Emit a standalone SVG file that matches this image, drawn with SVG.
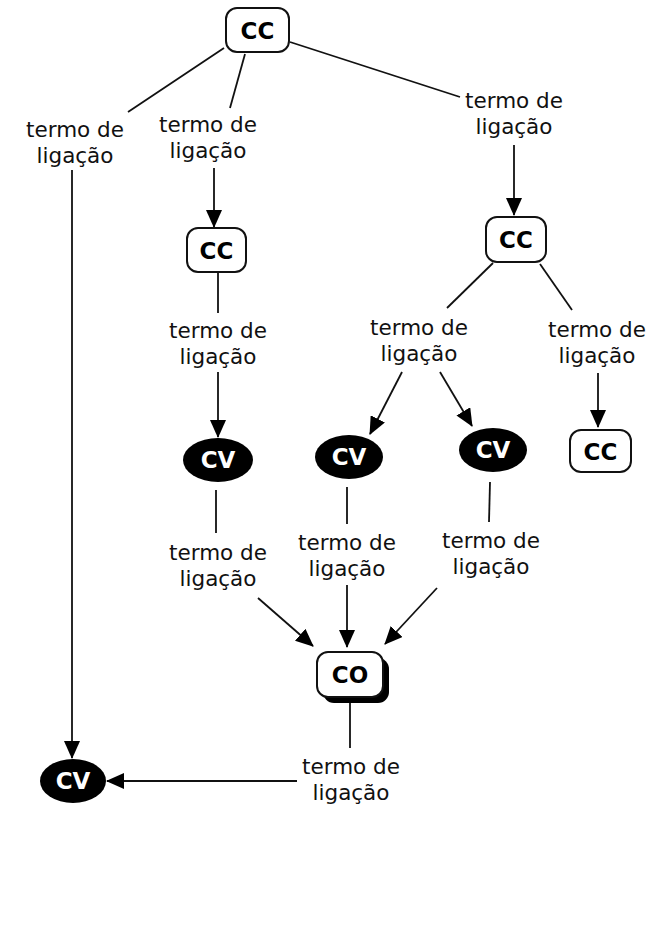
<svg xmlns="http://www.w3.org/2000/svg" width="666" height="937" viewBox="0 0 666 937">
<style>
.lbl{font-family:"DejaVu Sans",Verdana,sans-serif;font-size:21.5px;fill:#111;text-anchor:middle}
.cc{fill:#fff;stroke:#111;stroke-width:2}
.nt{font-family:"DejaVu Sans",Verdana,sans-serif;font-size:23px;font-weight:bold;text-anchor:middle}
.cv{fill:#000}
.ln{stroke:#111;stroke-width:1.8;fill:none}
</style>
<defs>
<marker id="ah" markerWidth="18" markerHeight="16" refX="17" refY="8" orient="auto" markerUnits="userSpaceOnUse">
<path d="M0,0 L18,8 L0,16 Z" fill="#000"/>
</marker>
</defs>
<rect width="666" height="937" fill="#fff"/>
<g id="connectors">
<line class="ln" x1="224" y1="48" x2="128" y2="112"/>
<line class="ln" x1="245" y1="54" x2="230" y2="108"/>
<line class="ln" x1="290" y1="42" x2="460" y2="97"/>
<line class="ln" x1="72" y1="170" x2="72" y2="758" marker-end="url(#ah)"/>
<line class="ln" x1="214" y1="168" x2="214" y2="227" marker-end="url(#ah)"/>
<line class="ln" x1="218" y1="272" x2="218" y2="313"/>
<line class="ln" x1="218" y1="372" x2="218" y2="437" marker-end="url(#ah)"/>
<line class="ln" x1="514" y1="145" x2="514" y2="215" marker-end="url(#ah)"/>
<line class="ln" x1="493" y1="263" x2="447" y2="308"/>
<line class="ln" x1="540" y1="264" x2="572" y2="310"/>
<line class="ln" x1="402" y1="372" x2="370" y2="434" marker-end="url(#ah)"/>
<line class="ln" x1="440" y1="372" x2="472" y2="426" marker-end="url(#ah)"/>
<line class="ln" x1="598" y1="373" x2="598" y2="427" marker-end="url(#ah)"/>
<line class="ln" x1="216" y1="490" x2="216" y2="533"/>
<line class="ln" x1="347" y1="487" x2="347" y2="524"/>
<line class="ln" x1="490" y1="482" x2="489" y2="522"/>
<line class="ln" x1="258" y1="598" x2="313" y2="646" marker-end="url(#ah)"/>
<line class="ln" x1="347" y1="585" x2="347" y2="647" marker-end="url(#ah)"/>
<line class="ln" x1="437" y1="588" x2="385" y2="644" marker-end="url(#ah)"/>
<line class="ln" x1="350" y1="703" x2="350" y2="748"/>
<line class="ln" x1="297" y1="781" x2="107" y2="781" marker-end="url(#ah)"/>
</g>
<g id="cc-top"><rect class="cc" x="226" y="8" width="63" height="44" rx="11"/><text class="nt" x="257.5" y="38.5">CC</text></g>
<g id="cc-2"><rect class="cc" x="187" y="228" width="59" height="44" rx="11"/><text class="nt" x="216.5" y="258.5">CC</text></g>
<g id="cc-3"><rect class="cc" x="486" y="217" width="60" height="45" rx="11"/><text class="nt" x="516" y="247.5">CC</text></g>
<g id="cc-4"><rect class="cc" x="570" y="430" width="61" height="42" rx="11"/><text class="nt" x="600.5" y="459.5">CC</text></g>
<g id="cv-1"><ellipse class="cv" cx="218" cy="460" rx="35" ry="22"/><text class="nt" x="218" y="468" fill="#fff">CV</text></g>
<g id="cv-2"><ellipse class="cv" cx="349" cy="457" rx="34" ry="22"/><text class="nt" x="349" y="465" fill="#fff">CV</text></g>
<g id="cv-3"><ellipse class="cv" cx="493" cy="450" rx="34" ry="22"/><text class="nt" x="493" y="458" fill="#fff">CV</text></g>
<g id="cv-4"><ellipse class="cv" cx="73" cy="781" rx="33" ry="22"/><text class="nt" x="73" y="789" fill="#fff">CV</text></g>
<g id="co"><rect x="323" y="658" width="66" height="45" rx="11" fill="#000"/><rect class="cc" x="317" y="652" width="66" height="45" rx="11"/><text class="nt" x="350" y="682.5">CO</text></g>
<g id="l1"><text class="lbl" x="75" y="137">termo de</text><text class="lbl" x="75" y="163">ligação</text></g>
<g id="l2"><text class="lbl" x="208" y="132">termo de</text><text class="lbl" x="208" y="158">ligação</text></g>
<g id="l3"><text class="lbl" x="514" y="108">termo de</text><text class="lbl" x="514" y="134">ligação</text></g>
<g id="l4"><text class="lbl" x="218" y="338">termo de</text><text class="lbl" x="218" y="364">ligação</text></g>
<g id="l5"><text class="lbl" x="419" y="335">termo de</text><text class="lbl" x="419" y="361">ligação</text></g>
<g id="l6"><text class="lbl" x="597" y="337">termo de</text><text class="lbl" x="597" y="363">ligação</text></g>
<g id="l7"><text class="lbl" x="218" y="560">termo de</text><text class="lbl" x="218" y="586">ligação</text></g>
<g id="l8"><text class="lbl" x="347" y="550">termo de</text><text class="lbl" x="347" y="576">ligação</text></g>
<g id="l9"><text class="lbl" x="491" y="548">termo de</text><text class="lbl" x="491" y="574">ligação</text></g>
<g id="l10"><text class="lbl" x="351" y="774">termo de</text><text class="lbl" x="351" y="800">ligação</text></g>
</svg>
